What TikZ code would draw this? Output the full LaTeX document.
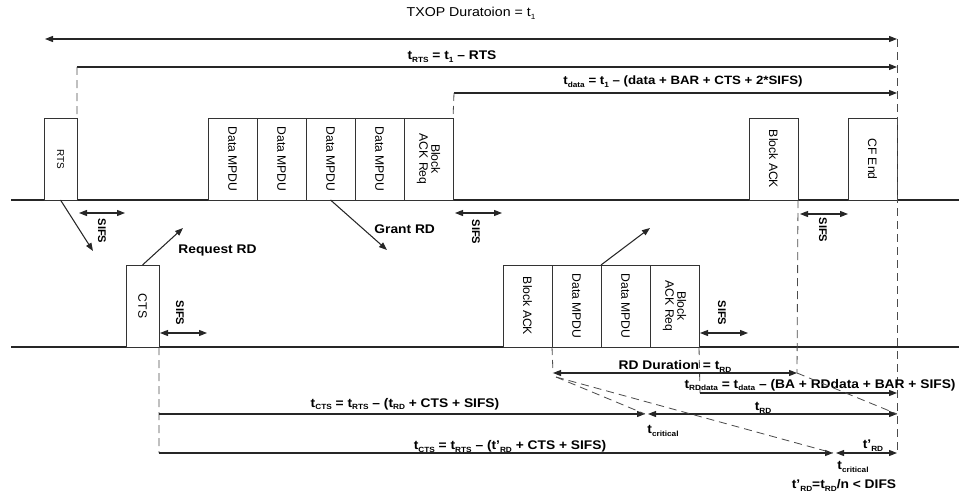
\documentclass[tikz,border=0pt]{standalone}
\usepackage{graphicx}
\usepackage{fontspec}
\setmainfont{Liberation Sans}[FakeStretch=1.1]
\newfontfamily\boxfont{Liberation Sans}
\newcommand{\idx}[1]{\raisebox{-0.45ex}{\fontsize{6.4}{6}\selectfont #1}}
\usetikzlibrary{arrows.meta,positioning,calc}

\begin{document}
\begin{tikzpicture}[
    x=0.3mm, y=-0.3mm,
    pkt/.style={draw=black!80, line width=0.7pt, inner sep=0pt, outer sep=0pt, fill=white, font=\boxfont\fontsize{10.4}{11}\selectfont},
    slot/.style={pkt, minimum width=14.7mm, minimum height=24.6mm},
    ctl/.style={pkt, minimum width=9.9mm, minimum height=24.6mm},
    timeline/.style={line width=1.7pt, black!85},
    spanline/.style={line width=0.9pt, black!85},
    oneway/.style={-{Triangle[length=2.4mm, width=1.8mm]}},
    twoway/.style={{Triangle[length=2.4mm, width=1.8mm]}-{Triangle[length=2.4mm, width=1.8mm]}},
    guide/.style={dash pattern=on 2.4mm off 1.5mm, line width=0.7pt, black!70},
    lbl/.style={font=\bfseries\fontsize{10.7}{12}\selectfont, inner sep=1pt},
    gap/.style={font=\boxfont\bfseries\fontsize{9.5}{10}\selectfont, rotate=-90, inner sep=0pt},
]
    \useasboundingbox (0,0) rectangle (959,493);

    % TXOP and top spans
    \node[font=\fontsize{11}{12}\selectfont] (txop) at (471,13) {TXOP Duratoion = t\idx{1}};
    \coordinate (txL) at (45,39);
    \coordinate (txR) at (897,39);
    \coordinate (txB) at (897,455);
    \draw[spanline, twoway] (txL) -- (txR);

    \coordinate (rtsS) at (77,67);
    \coordinate (rtsE) at (897,67);
    \draw[spanline, oneway] (rtsS) -- (rtsE);
    \node[lbl] (trts) at (452,57) {t\idx{RTS} = t\idx{1} \textendash{} RTS};

    \coordinate (dataS) at (454,93);
    \coordinate (dataE) at (897,93);
    \draw[spanline, oneway] (dataS) -- (dataE);
    \node[lbl, font=\bfseries\fontsize{10.3}{12}\selectfont] (tdata) at (683,82) {t\idx{data} = t\idx{1} \textendash{} (data + BAR + CTS + 2*SIFS)};

    % timelines
    \draw[timeline] (11,200) -- (959,200);
    \draw[timeline] (11,347) -- (959,347);

    % upper frames
    \node[ctl, anchor=south west, font=\boxfont\fontsize{8.5}{9}\selectfont] (rts) at (44,200) {\rotatebox{-90}{RTS}};
    \node[slot, anchor=south west] (d1) at (208,200) {\rotatebox{-90}{Data MPDU}};
    \node[slot, right=0pt of d1] (d2) {\rotatebox{-90}{Data MPDU}};
    \node[slot, right=0pt of d2] (d3) {\rotatebox{-90}{Data MPDU}};
    \node[slot, right=0pt of d3] (d4) {\rotatebox{-90}{Data MPDU}};
    \node[slot, right=0pt of d4] (bar) {\rotatebox{-90}{\shortstack{Block\\ACK Req}}};
    \node[slot, anchor=south west] (back) at (749,200) {\rotatebox{-90}{Block ACK}};
    \node[slot, anchor=south west] (cfend) at (848,200) {\rotatebox{-90}{CF End}};

    % lower frames
    \node[ctl, anchor=south west] (cts) at (126,347) {\rotatebox{-90}{CTS}};
    \node[slot, anchor=south west] (lback) at (503,347) {\rotatebox{-90}{Block ACK}};
    \node[slot, right=0pt of lback] (ld1) {\rotatebox{-90}{Data MPDU}};
    \node[slot, right=0pt of ld1] (ld2) {\rotatebox{-90}{Data MPDU}};
    \node[slot, right=0pt of ld2] (lbar) {\rotatebox{-90}{\shortstack{Block\\ACK Req}}};

    % dashed guides
    \draw[guide] (rtsS) -- (rts.north east);
    \draw[guide] (dataS) -- (bar.north east);
    \draw[guide] (txR) -- (txB);
    \coordinate (rdL) at (553,373);
    \coordinate (rdR) at (797,373);
    \coordinate (rddS) at (700,393);
    \coordinate (rddE) at (897,393);
    \draw[guide] (back.south east) -- (rdR);
    \draw[guide] (ld1.south west) -- (rdL);
    \draw[guide] (lbar.south east) -- (rddS);
    \coordinate (ctsA) at (159,414);
    \coordinate (ctsB) at (159,453);
    \draw[guide] (cts.south east) -- (ctsB);

    % RTS / CTS exchange
    \coordinate (rtsTo) at (93,251);
    \draw[spanline, oneway] (rts.south) -- (rtsTo);
    \coordinate (reqTo) at (183,228);
    \draw[spanline, oneway] (cts.north) -- (reqTo);
    \node[lbl, anchor=west] (reqrd) at (177,250) {Request RD};
    \coordinate (grantTo) at (387,250);
    \draw[spanline, oneway] (d3.south) -- (grantTo);
    \node[lbl, anchor=west] (grantrd) at (373,229) {Grant RD};
    \coordinate (rdTo) at (650,228);
    \draw[spanline, oneway] (ld2.north west) -- (rdTo);

    % SIFS gaps
    \coordinate (s1a) at (79,213);  \coordinate (s1b) at (125,213);
    \draw[spanline, twoway] (s1a) -- (s1b);
    \node[gap] (s1) at (102,231) {SIFS};
    \coordinate (s2a) at (455,213); \coordinate (s2b) at (502,213);
    \draw[spanline, twoway] (s2a) -- (s2b);
    \node[gap] (s2) at (476,232) {SIFS};
    \coordinate (s3a) at (800,214); \coordinate (s3b) at (848,214);
    \draw[spanline, twoway] (s3a) -- (s3b);
    \node[gap] (s3) at (823,230) {SIFS};
    \coordinate (s4a) at (160,333); \coordinate (s4b) at (207,333);
    \draw[spanline, twoway] (s4a) -- (s4b);
    \node[gap] (s4) at (180,313) {SIFS};
    \coordinate (s5a) at (700,333); \coordinate (s5b) at (748,333);
    \draw[spanline, twoway] (s5a) -- (s5b);
    \node[gap] (s5) at (722,313) {SIFS};

    % RD spans
    \draw[spanline, twoway] (rdL) -- (rdR);
    \node[lbl] (rddur) at (675,366) {RD Duration = t\idx{RD}};
    \draw[spanline, oneway] (rddS) -- (rddE);
    \node[lbl, anchor=east] (trdd) at (957,385) {t\idx{RDdata} = t\idx{data} \textendash{} (BA + RDdata + BAR + SIFS)};

    % CTS spans
    \coordinate (crit1) at (645,414);
    \coordinate (crit1b) at (648,414);
    \coordinate (rdEnd) at (897,414);
    \draw[spanline, oneway] (ctsA) -- (crit1);
    \draw[spanline, twoway] (crit1b) -- (rdEnd);
    \node[lbl] (tcts1) at (405,404) {t\idx{CTS} = t\idx{RTS} \textendash{} (t\idx{RD} + CTS + SIFS)};
    \node[lbl] (trd) at (763,408) {t\idx{RD}};
    \node[lbl] (tcrit1) at (663,431) {t\idx{critical}};

    \coordinate (crit2) at (833,453);
    \coordinate (crit2b) at (836,453);
    \coordinate (rdEnd2) at (897,453);
    \draw[spanline, oneway] (ctsB) -- (crit2);
    \draw[spanline, twoway] (crit2b) -- (rdEnd2);
    \node[lbl] (tcts2) at (510,446) {t\idx{CTS} = t\idx{RTS} \textendash{} (t'\idx{RD} + CTS + SIFS)};
    \node[lbl] (trd2) at (873,446) {t'\idx{RD}};
    \node[lbl] (tcrit2) at (853,467) {t\idx{critical}};
    \node[lbl] (rule) at (844,485) {t'\idx{RD}=t\idx{RD}/n < DIFS};

    % dashed slopes
    \coordinate (slope0) at (556,377);
    \draw[guide] (slope0) -- (crit1);
    \draw[guide] (slope0) -- (crit2);
    \draw[guide] (rdR) -- (rdEnd);
\end{tikzpicture}
\end{document}
